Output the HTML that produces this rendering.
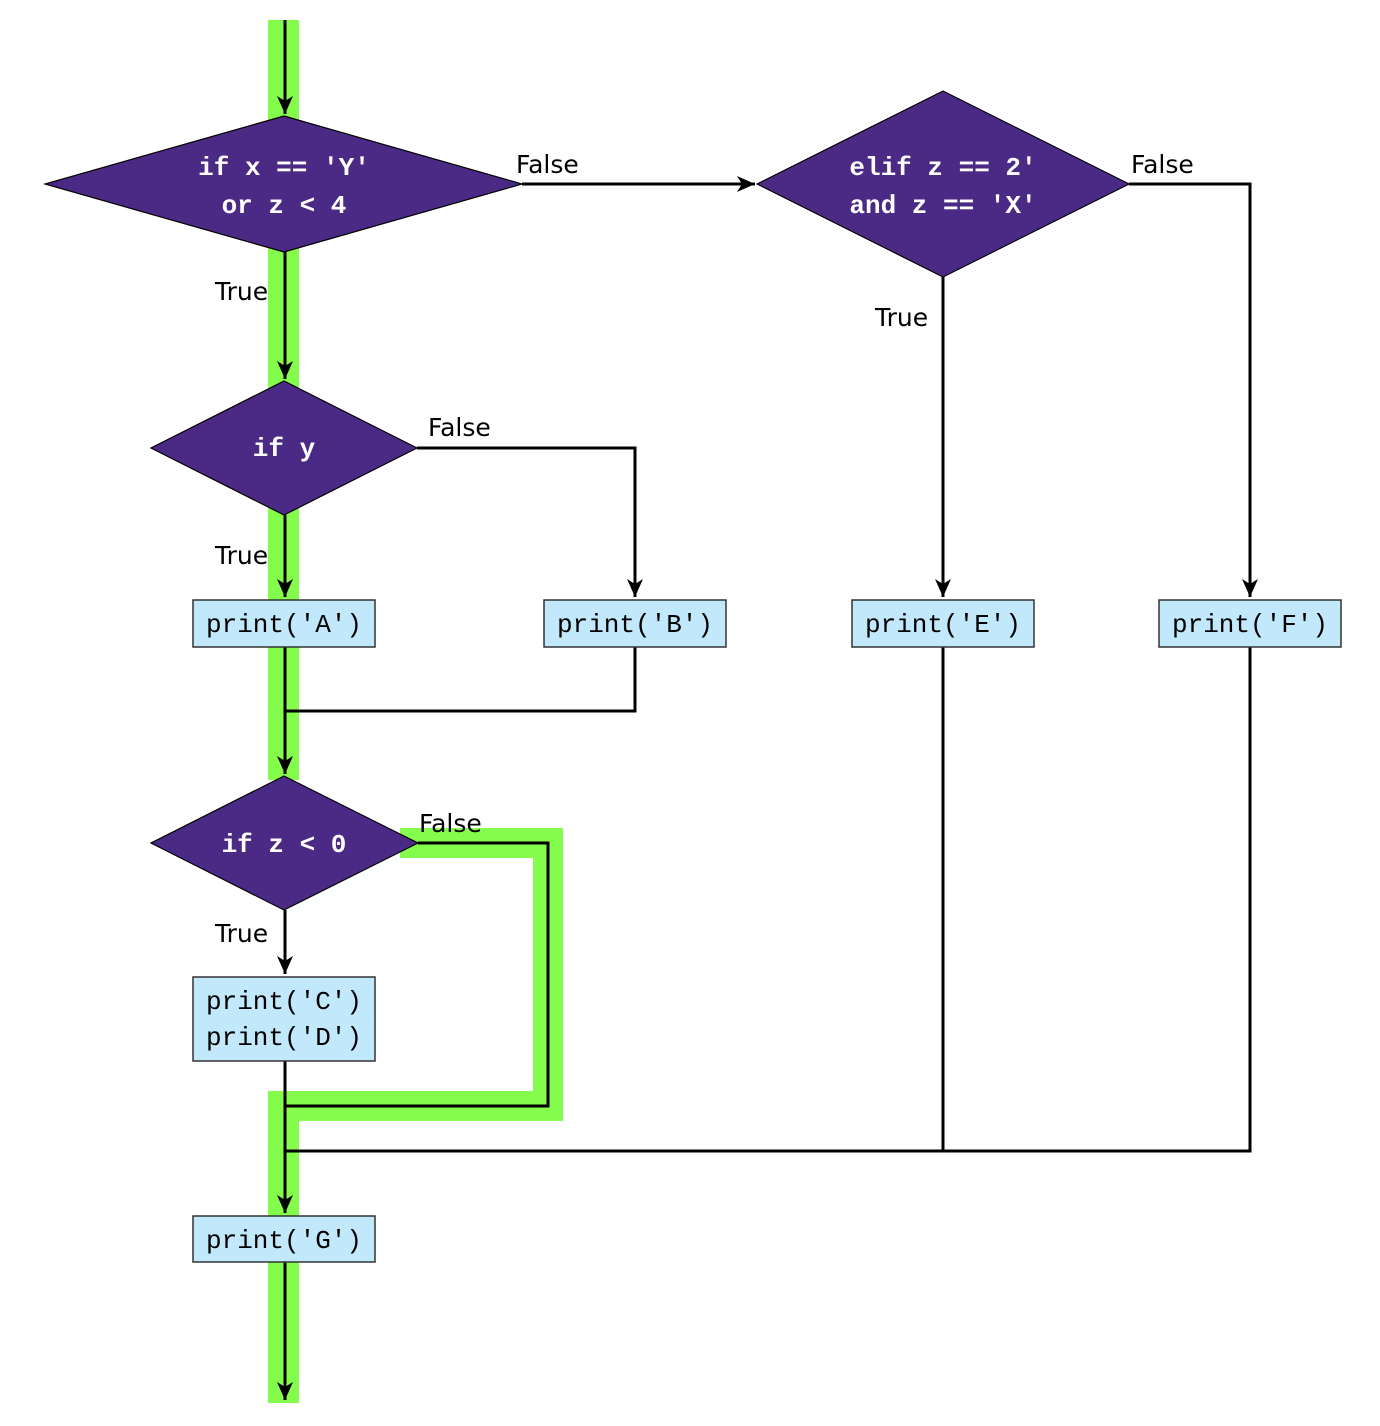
<!DOCTYPE html>
<html><head><meta charset="utf-8"><style>
html,body{margin:0;padding:0;background:#fff;}
svg{display:block;}
.m{font-family:"Liberation Mono",monospace;font-size:26px;}
.d{font-family:"Liberation Mono",monospace;font-size:26px;font-weight:bold;fill:#fff;}
.s{font-family:"DejaVu Sans","Liberation Sans",sans-serif;font-size:25px;fill:#000;}
</style></head><body>
<svg width="1380" height="1426" viewBox="0 0 1380 1426" xmlns="http://www.w3.org/2000/svg">
<defs>
<marker id="a" markerWidth="20" markerHeight="20" refX="18" refY="8" orient="auto" markerUnits="userSpaceOnUse">
<path d="M0,0 L18,8 L0,16 L5,8 Z" fill="#000"/>
</marker>
</defs>
<!-- green highlight -->
<g fill="#83fc4c">
<rect x="268" y="20" width="31" height="760"/>
<rect x="268" y="1091" width="31" height="312"/>
<rect x="400" y="828" width="163" height="30"/>
<rect x="533" y="828" width="30" height="293"/>
<rect x="268" y="1091" width="295" height="30"/>
</g>
<!-- connectors -->
<g stroke="#000" stroke-width="3" fill="none">
<line x1="285" y1="20" x2="285" y2="114" marker-end="url(#a)"/>
<line x1="285" y1="252" x2="285" y2="379" marker-end="url(#a)"/>
<line x1="522" y1="184" x2="755" y2="184" marker-end="url(#a)"/>
<polyline points="1129,184 1250,184 1250,597" marker-end="url(#a)"/>
<line x1="943" y1="277" x2="943" y2="597" marker-end="url(#a)"/>
<polyline points="417,448 635,448 635,597" marker-end="url(#a)"/>
<line x1="285" y1="515" x2="285" y2="597" marker-end="url(#a)"/>
<polyline points="635,647 635,711 285,711"/>
<line x1="285" y1="647" x2="285" y2="774" marker-end="url(#a)"/>
<line x1="285" y1="910" x2="285" y2="974" marker-end="url(#a)"/>
<polyline points="418,843 548,843 548,1106 285,1106"/>
<line x1="285" y1="1061" x2="285" y2="1213" marker-end="url(#a)"/>
<polyline points="943,647 943,1151"/>
<polyline points="1250,647 1250,1151 285,1151"/>
<line x1="285" y1="1262" x2="285" y2="1400" marker-end="url(#a)"/>
</g>
<!-- diamonds -->
<g fill="#4b2a86" stroke="#000" stroke-width="1.2">
<polygon points="284,116 522,184 284,252 45,184"/>
<polygon points="943,91 1129,184 943,277 757,184"/>
<polygon points="284,381 417,448 284,515 151,448"/>
<polygon points="284,776 418,843 284,910 151,843"/>
</g>
<g text-anchor="middle" class="d">
<text x="284" y="175">if x == 'Y'</text>
<text x="284" y="213">or z &lt; 4</text>
<text x="943" y="175">elif z == 2'</text>
<text x="943" y="213">and z == 'X'</text>
<text x="284" y="456">if y</text>
<text x="284" y="852">if z &lt; 0</text>
</g>
<!-- boxes -->
<g fill="#c2e9fb" stroke="#333" stroke-width="1.5">
<rect x="193" y="600" width="182" height="47"/>
<rect x="544" y="600" width="182" height="47"/>
<rect x="852" y="600" width="182" height="47"/>
<rect x="1159" y="600" width="182" height="47"/>
<rect x="193" y="977" width="182" height="84"/>
<rect x="193" y="1216" width="182" height="46"/>
</g>
<g text-anchor="middle" class="m">
<text x="284" y="632">print('A')</text>
<text x="635" y="632">print('B')</text>
<text x="943" y="632">print('E')</text>
<text x="1250" y="632">print('F')</text>
<text x="284" y="1009">print('C')</text>
<text x="284" y="1045">print('D')</text>
<text x="284" y="1248">print('G')</text>
</g>
<!-- labels -->
<g class="s">
<text x="516" y="173">False</text>
<text x="1131" y="173">False</text>
<text x="428" y="436">False</text>
<text x="419" y="832">False</text>
<text x="215" y="300">True</text>
<text x="875" y="326">True</text>
<text x="215" y="564">True</text>
<text x="215" y="942">True</text>
</g>
</svg>
</body></html>
